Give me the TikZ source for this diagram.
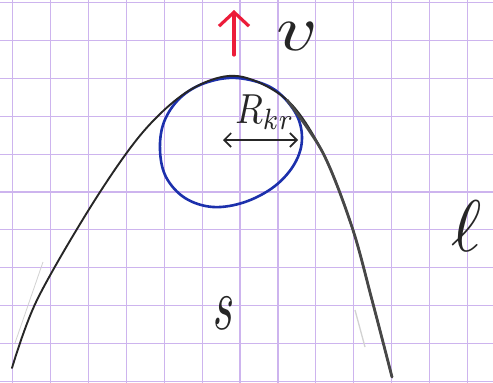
\documentclass[tikz,border=0pt]{standalone}
\usetikzlibrary{arrows.meta}
\definecolor{gridc}{RGB}{205,180,238}
\definecolor{ink}{RGB}{38,38,38}
\definecolor{blueink}{RGB}{28,48,172}
\definecolor{redink}{RGB}{236,28,58}
\definecolor{pencil}{RGB}{210,210,210}
\tikzset{
  gridline/.style={gridc, line width=1.1pt},
  curveline/.style={ink, line cap=round, line join=round},
  barbs/.style={ink, line width=1.6pt, {Straight Barb[length=7pt,width=14pt]}-{Straight Barb[length=7pt,width=14pt]}},
  redarrow/.style={redink, line width=3.2pt, line cap=round, -{Straight Barb[length=14pt,width=30pt,line width=3.2pt]}},
  label/.style={ink, inner sep=0pt}
}
\begin{document}
\begin{tikzpicture}[x=1pt,y=-1pt]
\useasboundingbox (0,0) rectangle (493,383);
\fill[white] (0,0) rectangle (493,383);
% grid paper
\foreach \i in {0,...,12} \draw[gridline] ({12.3+37.95*\i},0) -- ({12.3+37.95*\i},383);
\foreach \j in {0,...,10} \draw[gridline] (0,{2.5+37.9*\j}) -- (493,{2.5+37.9*\j});
% faint pencil traces
\draw[pencil, line width=0.8pt] (15,343) -- (43,262);
\draw[pencil, line width=1.3pt] (355,310) -- (365,347);
% blue osculating circle
\draw[blueink, line width=2.6pt] plot[smooth cycle, tension=0.6] coordinates {
 (237,78) (272,88) (295,112) (302,138) (295,163) (275,186) (245,202)
 (213,207) (185,198) (166,177) (160,150) (164,122) (180,98) (205,83)};
% black trajectory
\draw[curveline, line width=1.9pt] plot[smooth, tension=0.55] coordinates {
 (12,368) (37,300) (93,203) (143,132) (190,90) (237,76) (287,100)
 (323,153) (352,227) (372,300) (392,377)};
\draw[curveline, line width=2.8pt, ink!85] plot[smooth, tension=0.55] coordinates {
 (287,100) (323,153) (352,227) (372,300) (392,377)};
% radius arrow
\coordinate (rl) at (223,140);
\coordinate (rr) at (298,140);
\draw[barbs] (rl) -- (rr);
\node[label, xscale=3.6, yscale=4.2] (rkr) at (265,112) {$R_{kr}$};
% velocity arrow
\coordinate (vb) at (234,55);
\coordinate (vt) at (234,10);
\draw[redarrow] (vb) -- (vt);
\node[label, xscale=8, yscale=6.5] (v) at (297,37) {$v$};
\node[label, scale=7.3] (ell) at (467,226) {$\ell$};
\node[label, xscale=4.5, yscale=7.5] (s) at (224,313) {$s$};
\end{tikzpicture}
\end{document}
